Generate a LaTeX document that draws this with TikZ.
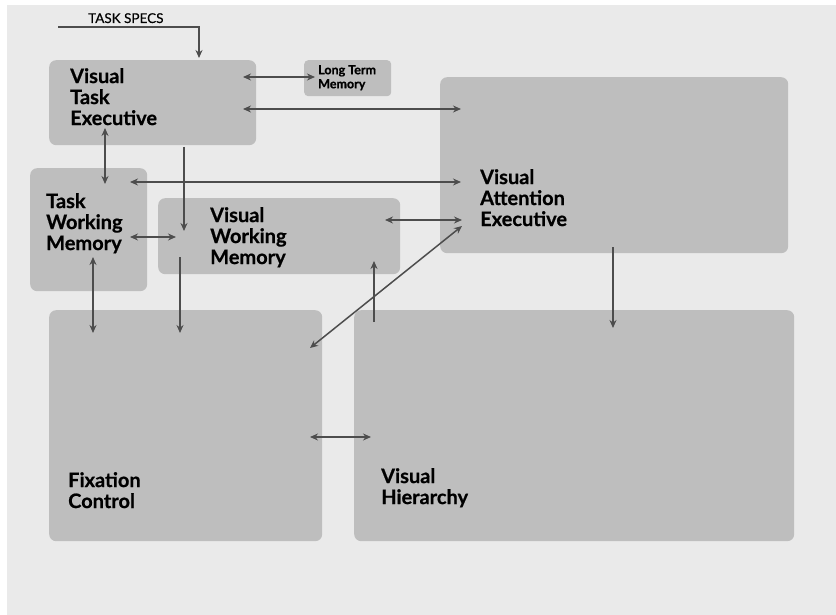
\documentclass[tikz,border=0pt]{standalone}
\usepackage{fontspec}
\setmainfont{Lato}
\newfontfamily\heavyfont{Lato}[FakeBold=0.6]
\newfontfamily\medfont{Lato}[FakeBold=0.25]
\usetikzlibrary{arrows.meta}
\definecolor{bggray}{HTML}{EAEAEA}
\definecolor{boxgray}{HTML}{BEBEBE}
\definecolor{arrgray}{HTML}{4D4D4D}
\tikzset{
  box/.style={fill=boxgray, draw=none, rounded corners=7pt, anchor=north west, inner sep=0pt},
  lbl/.style={anchor=north west, inner sep=0pt, align=left, font=\heavyfont\bfseries\fontsize{20}{21}\selectfont},
  slbl/.style={anchor=north west, inner sep=0pt, align=left, font=\heavyfont\bfseries\fontsize{12.5}{14}\selectfont},
  conn/.style={draw=arrgray, line width=1.5pt, -{Stealth[length=8pt,width=7pt]}},
  bconn/.style={draw=arrgray, line width=1.5pt, {Stealth[length=8pt,width=7pt]}-{Stealth[length=8pt,width=7pt]}},
}
\begin{document}
\begin{tikzpicture}[x=1pt,y=-1pt]
\useasboundingbox (0,0) rectangle (836,615);
\fill[white] (0,0) rectangle (836,615);
\fill[bggray] (7,5) rectangle (836,615);
% boxes
\node[box, minimum width=207pt, minimum height=85pt] (vte) at (49,60) {};
\node[box, minimum width=87pt, minimum height=36pt, rounded corners=4pt] (ltm) at (304,60) {};
\node[box, minimum width=348pt, minimum height=176pt] (vae) at (440,77) {};
\node[box, minimum width=117pt, minimum height=123pt] (twm) at (30,168) {};
\node[box, minimum width=242pt, minimum height=76pt] (vwm) at (158,198) {};
\node[box, minimum width=273pt, minimum height=231pt] (fc) at (49,310) {};
\node[box, minimum width=440pt, minimum height=231pt] (vh) at (354,310) {};
% labels
\node[lbl] (tvte) at (70,68) {Visual\\Task\\Executive};
\node[slbl] (tltm) at (318,65) {Long Term\\Memory};
\node[lbl] (tvae) at (480,169) {Visual\\Attention\\Executive};
\node[lbl] (ttwm) at (46,193) {Task\\Working\\Memory};
\node[lbl] (tvwm) at (210,207) {Visual\\Working\\Memory};
\node[lbl] (tfc) at (68,472) {Fixation\\Control};
\node[lbl] (tvh) at (381,468) {Visual\\Hierarchy};
\node[anchor=base west, inner sep=0pt, font=\medfont\fontsize{13.5}{15}\selectfont] (tspec) at (88,23) {TASK SPECS};
% connector anchor coordinates
\coordinate (s0) at (58,27);
\coordinate (s1) at (199,27);
\coordinate (s2) at (199,58);
\coordinate (a1) at (243,77);
\coordinate (a2) at (315,77);
\coordinate (b1) at (243,109);
\coordinate (b2) at (461,109);
\coordinate (c1) at (105,128);
\coordinate (c2) at (105,184);
\coordinate (d1) at (184,147);
\coordinate (d2) at (184,231);
\coordinate (e1) at (130,182);
\coordinate (e2) at (461,182);
\coordinate (f1) at (130,237);
\coordinate (f2) at (176,237);
\coordinate (g1) at (385,220);
\coordinate (g2) at (462,220);
\coordinate (h1) at (93,257);
\coordinate (h2) at (93,333);
\coordinate (i1) at (180,257);
\coordinate (i2) at (180,333);
\coordinate (j1) at (374,322);
\coordinate (j2) at (374,261);
\coordinate (k1) at (310,348);
\coordinate (k2) at (462,226);
\coordinate (l1) at (613,247);
\coordinate (l2) at (613,328);
\coordinate (m1) at (310,437);
\coordinate (m2) at (371,437);
% connectors
\draw[conn] (s0) -- (s1) -- (s2);
\draw[bconn] (a1) -- (a2);
\draw[bconn] (b1) -- (b2);
\draw[bconn] (c1) -- (c2);
\draw[conn] (d1) -- (d2);
\draw[bconn] (e1) -- (e2);
\draw[bconn] (f1) -- (f2);
\draw[bconn] (g1) -- (g2);
\draw[bconn] (h1) -- (h2);
\draw[conn] (i1) -- (i2);
\draw[conn] (j1) -- (j2);
\draw[bconn] (k1) -- (k2);
\draw[conn] (l1) -- (l2);
\draw[bconn] (m1) -- (m2);
\end{tikzpicture}
\end{document}
